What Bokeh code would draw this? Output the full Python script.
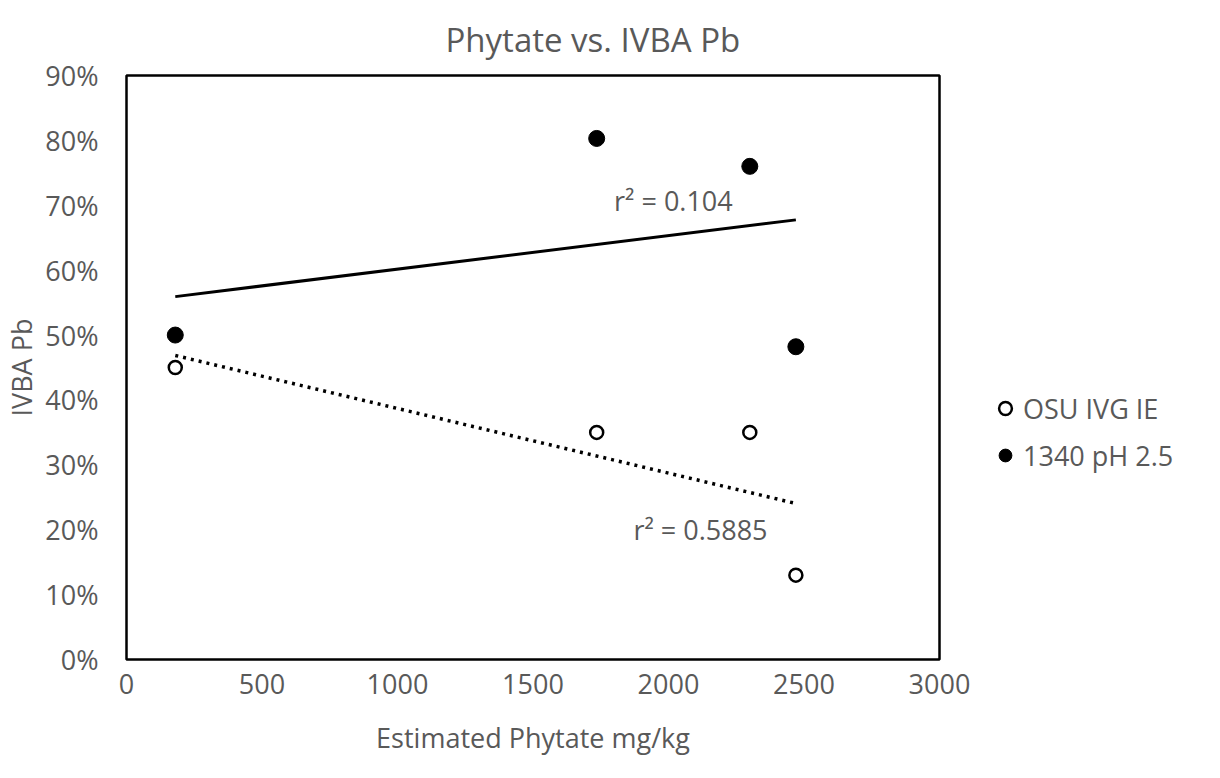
import numpy as np
from bokeh.plotting import figure
from bokeh.models import Range1d, NumeralTickFormatter, Legend, LegendItem, Label, Title, FixedTicker
from bokeh.embed import file_html
from bokeh.resources import INLINE

# ---- data ----
phytate = [180, 1735, 2300, 2470]
osu_ivg_ie = [0.45, 0.35, 0.35, 0.13]
ph25_1340 = [0.50, 0.803, 0.76, 0.482]
series_names = ["OSU IVG IE", "1340 pH 2.5"]
r2_labels = ["r² = 0.5885", "r² = 0.104"]
x_ticks = [0, 500, 1000, 1500, 2000, 2500, 3000]
y_ticks = [0.0, 0.1, 0.2, 0.3, 0.4, 0.5, 0.6, 0.7, 0.8, 0.9]
chart_title = "Phytate vs. IVBA Pb"

FONT = "Open Sans"
GREY = "#595959"
FS = "27px"

p = figure(frame_width=813, frame_height=584, output_backend="svg", toolbar_location=None,
           x_range=Range1d(0, 3000), y_range=Range1d(0, 0.9),
           min_border_left=125, min_border_right=266, min_border_top=74, min_border_bottom=102)
p.title = None
p.grid.visible = False
p.outline_line_color = "black"
p.outline_line_width = 2.5
p.background_fill_color = "white"
p.border_fill_color = "white"

for ax in (p.xaxis[0], p.yaxis[0]):
    ax.axis_line_color = None
    ax.major_tick_line_color = None
    ax.minor_tick_line_color = None
    ax.major_label_text_font = FONT
    ax.major_label_text_font_size = FS
    ax.major_label_text_color = GREY
    ax.axis_label_text_font = FONT
    ax.axis_label_text_font_size = FS
    ax.axis_label_text_color = GREY
    ax.axis_label_text_font_style = "normal"
    ax.major_tick_out = 0
    ax.major_tick_in = 0

p.xaxis.ticker = FixedTicker(ticks=x_ticks)
p.yaxis.ticker = FixedTicker(ticks=y_ticks)
p.yaxis.formatter = NumeralTickFormatter(format="0%")
p.xaxis.axis_label = "Estimated Phytate mg/kg"
p.yaxis.axis_label = "IVBA Pb"
p.xaxis.major_label_standoff = 14
p.xaxis.axis_label_standoff = 22
p.yaxis.major_label_standoff = 28
p.yaxis.axis_label_standoff = 2

title = Title(text=chart_title, align="left", offset=319, standoff=28,
              text_font=FONT, text_font_size="33px", text_color=GREY, text_font_style="normal")
p.add_layout(title, "above")

# trendlines (least squares on the data)
xs = np.array(phytate, dtype=float)
xline = [xs.min(), xs.max()]
for ys, dash, w in ((osu_ivg_ie, "3 5", 3.5), (ph25_1340, "solid", 3)):
    m, b = np.polyfit(xs, np.array(ys), 1)
    p.line(xline, [m * x + b for x in xline], line_color="black", line_width=w, line_dash=dash)

r_open = p.scatter(phytate, osu_ivg_ie, size=13, marker="circle", fill_color="white",
                   line_color="black", line_width=2.5)
r_fill = p.scatter(phytate, ph25_1340, size=16, marker="circle", fill_color="black",
                   line_color="black", line_width=1)

p.add_layout(Label(x=2118, y=0.20, text=r2_labels[0], text_font=FONT, text_font_size=FS,
                   text_color=GREY, text_align="center", text_baseline="middle"))
p.add_layout(Label(x=2018, y=0.707, text=r2_labels[1], text_font=FONT, text_font_size=FS,
                   text_color=GREY, text_align="center", text_baseline="middle"))

legend = Legend(items=[LegendItem(label=series_names[0], renderers=[r_open]),
                       LegendItem(label=series_names[1], renderers=[r_fill])],
                location=(50, 184), padding=0, margin=0, spacing=7,
                glyph_width=32, glyph_height=32, label_height=40, label_standoff=2,
                label_text_font=FONT, label_text_font_size=FS, label_text_color=GREY,
                border_line_color=None, background_fill_alpha=0)
p.add_layout(legend, "right")

open("out.html", "w").write(file_html(p, INLINE))
